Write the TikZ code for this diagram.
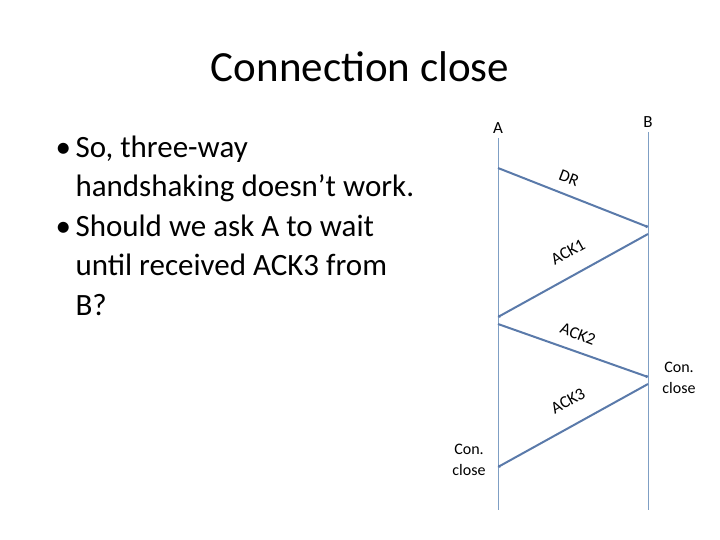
\documentclass[tikz,border=0pt]{standalone}
\usepackage{fontspec}
\setmainfont{Carlito}
\usetikzlibrary{arrows.meta}
\begin{document}
\begin{tikzpicture}[x=1pt,y=-1pt,
 life/.style={draw=linec, line width=0.8pt},
 msg/.style={draw=msgc, line width=2pt, -{Circle[length=3pt]}},
 lab/.style={font=\fontsize{17}{17}\selectfont, inner sep=0pt},
 small/.style={font=\fontsize{16}{21}\selectfont, inner sep=0pt, align=center}]
\definecolor{linec}{HTML}{7F9FC4}
\definecolor{msgc}{HTML}{5A7AAA}
\useasboundingbox (0,0) rectangle (720,540);
\node[font=\fontsize{43}{46}\selectfont] (title) at (360,67) {Connection close};
\node[font=\fontsize{31}{39.5}\selectfont, anchor=north west, align=left] (txt) at (52,132)
 {\makebox[20pt][l]{•}So, three-way\\\hspace*{20pt}handshaking doesn’t work.\\\makebox[20pt][l]{•}Should we ask A to wait\\\hspace*{20pt}until received ACK3 from\\\hspace*{20pt}B?};
\node[lab] (la) at (498,128) {A};
\node[lab] (lb) at (648,122) {B};
\coordinate (at) at (498,138); \coordinate (ab) at (498,510);
\coordinate (bt) at (648,132); \coordinate (bb) at (648,510);
\draw[life] (at) -- (ab);
\draw[life] (bt) -- (bb);
\coordinate (a1) at (498,168); \coordinate (b1) at (648,227);
\coordinate (b2) at (648,234); \coordinate (a2) at (498,317);
\coordinate (a3) at (498,324); \coordinate (b3) at (648,377);
\coordinate (b4) at (648,384); \coordinate (a4) at (498,467);
\draw[msg] (a1) -- (b1);
\draw[msg] (b2) -- (a2);
\draw[msg] (a3) -- (b3);
\draw[msg] (b4) -- (a4);
\node[lab, rotate=-21] (dr) at (569,178) {DR};
\node[lab, rotate=29] (k1) at (568,252) {ACK1};
\node[lab, rotate=-21] (k2) at (578,334) {ACK2};
\node[lab, rotate=29] (k3) at (568,401) {ACK3};
\node[small] (ca) at (469,460) {Con.\\close};
\node[small] (cb) at (679,378) {Con.\\close};
\end{tikzpicture}
\end{document}
